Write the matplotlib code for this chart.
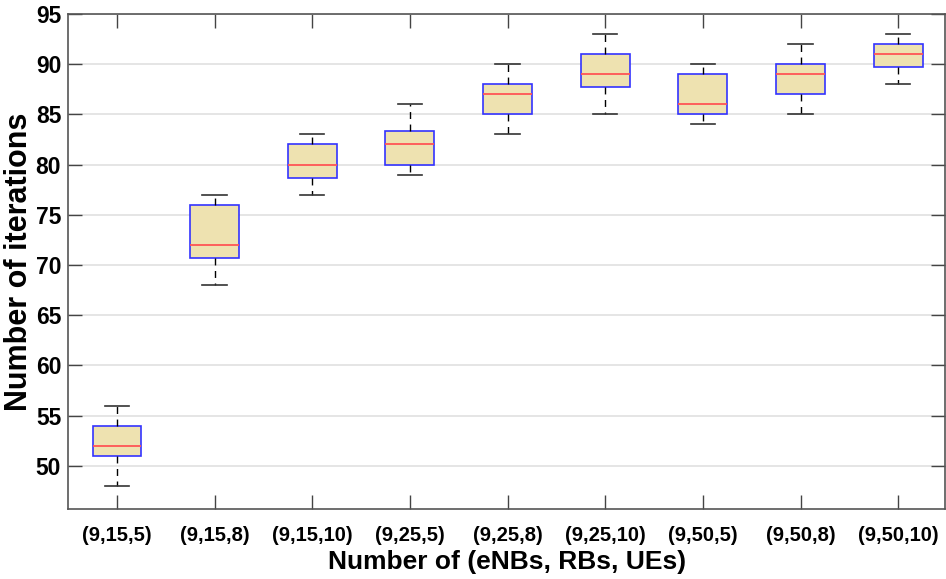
import matplotlib.pyplot as plt

# box statistics
labels = ["(9,15,5)", "(9,15,8)", "(9,15,10)", "(9,25,5)", "(9,25,8)",
          "(9,25,10)", "(9,50,5)", "(9,50,8)", "(9,50,10)"]
whislo = [48, 68, 77, 79, 83, 85, 84, 85, 88]
q1 = [51, 70.7, 78.7, 80, 85, 87.7, 85, 87, 89.7]
med = [52, 72, 80, 82, 87, 89, 86, 89, 91]
q3 = [54, 76, 82, 83.3, 88, 91, 89, 90, 92]
whishi = [56, 77, 83, 86, 90, 93, 90, 92, 93]

plt.rcParams['font.family'] = ['Liberation Sans', 'DejaVu Sans']
plt.rcParams['font.weight'] = 'bold'

stats = []
for i in range(len(labels)):
    stats.append(dict(label=labels[i], whislo=whislo[i], q1=q1[i], med=med[i],
                      q3=q3[i], whishi=whishi[i], fliers=[]))

fig = plt.figure(figsize=(9.46, 5.79), dpi=100)
ax = fig.add_axes([0.072, 0.121, 0.927, 0.855])

ax.bxp(stats, widths=0.5, patch_artist=True, showfliers=False,
       boxprops=dict(facecolor='#EEE2B0', edgecolor='#3333FF', linewidth=1.2),
       medianprops=dict(color='#FF5555', linewidth=1.3),
       whiskerprops=dict(color='black', linestyle=(0, (5, 4)), linewidth=1.0),
       capprops=dict(color='#333333', linewidth=1.2))

ax.set_xlim(0.5, 9.48)
ax.set_ylim(45.7, 95)
ax.set_yticks(range(50, 96, 5))
ax.yaxis.grid(True, color='#E0E0E0', linewidth=1.2)
ax.set_axisbelow(True)
ax.tick_params(direction='in', top=True, right=True, length=10, width=1,
               colors='#444444', labelcolor='black')
for lab in ax.get_xticklabels() + ax.get_yticklabels():
    lab.set_fontweight('bold')
ax.tick_params(axis='x', labelsize=14.5, pad=12)
ax.tick_params(axis='y', labelsize=16.5, pad=5)
for sp in ax.spines.values():
    sp.set_color('#555555')
    sp.set_linewidth(1.2)

ax.set_xlabel("Number of (eNBs, RBs, UEs)", fontsize=19, fontweight='bold', labelpad=4)
ax.set_ylabel("Number of iterations", fontsize=22, fontweight='bold', va='center')
ax.yaxis.set_label_coords(-0.056, 0.5)

fig.savefig("out.png", dpi=100)
